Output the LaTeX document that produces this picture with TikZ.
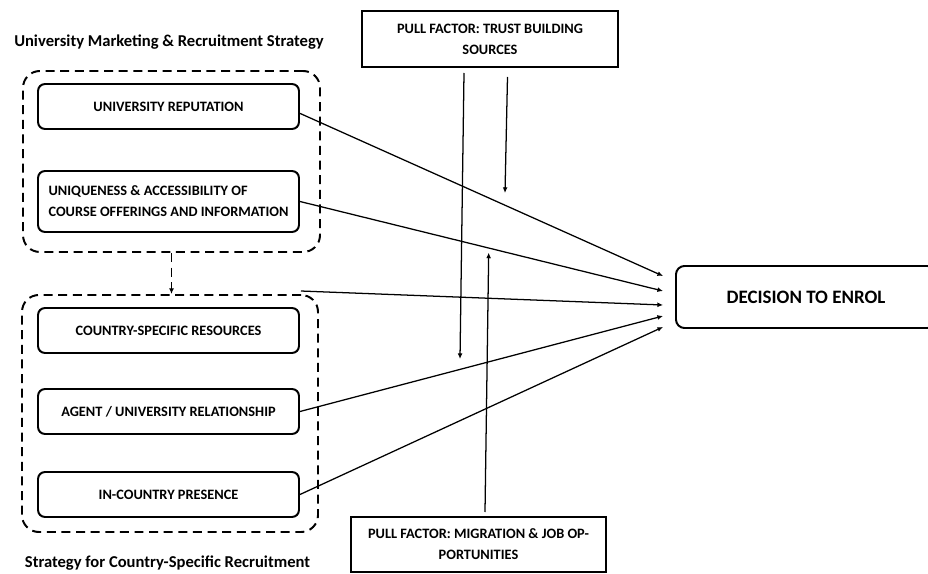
\documentclass[tikz,border=0pt]{standalone}
\usepackage{fontspec}
\setmainfont{Carlito}
\usetikzlibrary{positioning,calc,arrows.meta}

\begin{document}
\begin{tikzpicture}[
  box/.style={draw, line width=1.4pt, rounded corners=5pt, minimum width=6.525cm, minimum height=1.125cm, align=center, font=\fontsize{10.2}{14.9}\selectfont\bfseries},
  group/.style={draw, line width=1.4pt, dash pattern=on 6.4pt off 4pt, rounded corners=12pt, minimum width=7.425cm},
  pull/.style={draw, line width=1.4pt, minimum width=6.4cm, minimum height=1.4cm, align=center, font=\fontsize{10.2}{14.9}\selectfont\bfseries},
  heading/.style={font=\fontsize{11.8}{14}\selectfont\bfseries},
  link/.style={line width=0.9pt, -{Latex[length=4pt,width=3.5pt]}}]

  \useasboundingbox (0,0) rectangle (23.2,-14.35);
  \clip (0,0) rectangle (23.2,-14.35);

  %% left column
  \node (Marketing) [heading] at (4.225,-1.05) {University Marketing \& Recruitment Strategy};
  \node (GroupOne) [group, minimum height=4.525cm] at (4.2875,-4.0375) {};
  \node (Reputation) [box] at (4.2125,-2.6625) {UNIVERSITY REPUTATION};
  \node (Uniqueness) [box, node distance=2.375cm, below of=Reputation, minimum height=1.525cm, align=left] {UNIQUENESS \& ACCESSIBILITY OF\\COURSE OFFERINGS AND INFORMATION};

  \node (GroupTwo) [group, minimum width=7.4cm, minimum height=5.925cm] at (4.25,-10.3375) {};
  \node (Resources) [box, node distance=3.225cm, below of=Uniqueness] {COUNTRY-SPECIFIC RESOURCES};
  \node (Agent) [box, node distance=2.025cm, below of=Resources] {AGENT / UNIVERSITY RELATIONSHIP};
  \node (Presence) [box, node distance=2.075cm, below of=Agent] {IN-COUNTRY PRESENCE};
  \node (Country) [heading] at (4.1875,-14.075) {Strategy for Country-Specific Recruitment};

  %% pull factors and outcome
  \node (Trust) [pull] at (12.25,-0.975) {PULL FACTOR: TRUST BUILDING\\SOURCES};
  \node (Migration) [pull, minimum width=6.375cm, minimum height=1.375cm] at (11.9625,-13.6125) {PULL FACTOR: MIGRATION \& JOB OP-\\PORTUNITIES};
  \node (Decision) [box, minimum width=6.5cm, minimum height=1.55cm, rounded corners=6pt, font=\fontsize{13.5}{16}\selectfont\bfseries] at (20.15,-7.425) {DECISION TO ENROL};

  \coordinate (In1) at ($(Decision.west)+(-0.3,0.525)$);
  \coordinate (In2) at ($(Decision.west)+(-0.3,0.15)$);
  \coordinate (In3) at ($(Decision.west)+(-0.3,-0.2)$);
  \coordinate (In4) at ($(Decision.west)+(-0.3,-0.475)$);
  \coordinate (In5) at ($(Decision.west)+(-0.3,-0.75)$);
  \coordinate (CornerTwo) at ($(GroupTwo.north east)+(-0.45,0.075)$);

  \coordinate (TrustA) at (11.6,-1.825);
  \coordinate (TrustAEnd) at (11.5,-8.975);
  \coordinate (TrustB) at (12.6875,-1.925);
  \coordinate (TrustBEnd) at (12.625,-4.825);
  \coordinate (Job) at (12.125,-12.8);
  \coordinate (JobEnd) at (12.2175,-6.315);

  \draw [link, line width=1.4pt, dash pattern=on 6.4pt off 4pt] (GroupOne.south) -- (GroupOne.south |- GroupTwo.north);

  \draw [link] (Reputation.-3) -- (In1);
  \draw [link] (Uniqueness.east) -- (In2);
  \draw [link] (CornerTwo) -- (In3);
  \draw [link] (Agent.east) -- (In4);
  \draw [link] (Presence.east) -- (In5);

  \draw [link] (TrustA) -- (TrustAEnd);
  \draw [link] (TrustB) -- (TrustBEnd);
  \draw [link] (Job) -- (JobEnd);

\end{tikzpicture}
\end{document}
